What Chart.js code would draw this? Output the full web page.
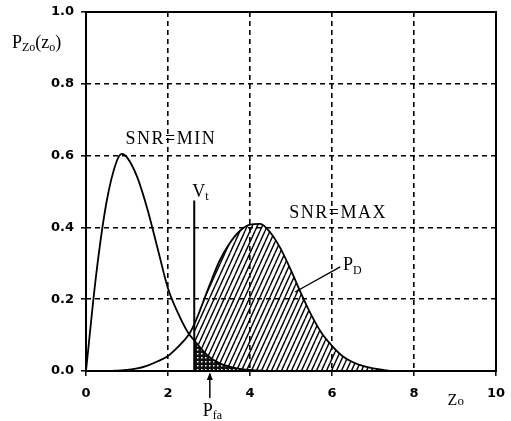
<!DOCTYPE html>
<html>
<head>
<meta charset="utf-8">
<script src="https://cdn.jsdelivr.net/npm/chart.js@4.4.1/dist/chart.umd.min.js"></script>
<style>
html, body { margin: 0; padding: 0; background: #fff; }
#wrap { width: 511px; height: 421px; }
</style>
</head>
<body>
<div id="wrap"><canvas id="grafico" width="511" height="421"></canvas></div>
<script>
// valores
const zo = [0, 0.25, 0.5, 0.75, 0.875, 1.0, 1.25, 1.5, 1.75, 2.0, 2.25, 2.5, 2.64, 2.75, 3.0, 3.25, 3.5,
            3.75, 4.0, 4.25, 4.5, 4.75, 5.0, 5.25, 5.5, 5.75, 6.0, 6.25, 6.5, 6.75, 7.0, 7.25, 7.5, 8.0, 9.0, 10.0];
const snrMin = [0, 0.27, 0.47, 0.585, 0.605, 0.595, 0.54, 0.45, 0.34, 0.23, 0.16, 0.105, 0.085, 0.07, 0.04, 0.022, 0.012,
                0.006, 0.003, 0.001, 0, 0, 0, 0, 0, 0, 0, 0, 0, 0, 0, 0, 0, 0, 0, 0];
const snrMax = [0, 0, 0, 0.001, 0.002, 0.003, 0.007, 0.015, 0.027, 0.042, 0.068, 0.10, 0.13, 0.16, 0.235, 0.305, 0.355,
                0.39, 0.408, 0.41, 0.385, 0.34, 0.28, 0.215, 0.155, 0.105, 0.07, 0.042, 0.025, 0.014, 0.007, 0.003, 0, 0, 0, 0];
const umbralVt = 2.64;      // posicion de V_t
const alturaVt = 0.475;     // alto de la linea V_t
const yTicks = [0, 0.2, 0.4, 0.6, 0.8, 1.0];
const xTicks = [0, 2, 4, 6, 8, 10];

function puntos(xs, ys, desde) {
    const out = [];
    for (let i = 0; i < xs.length; i++) {
        if (desde === undefined || xs[i] >= desde) out.push({ x: xs[i], y: ys[i] });
    }
    return out;
}

// patron de rayado diagonal
function patronRayas() {
    const c = document.createElement('canvas');
    c.width = 5; c.height = 11;
    const g = c.getContext('2d');
    g.strokeStyle = '#000';
    g.lineWidth = 1.4;
    for (const dx of [-5, 0, 5]) {
        g.beginPath();
        g.moveTo(dx, 11);
        g.lineTo(dx + 5, 0);
        g.stroke();
    }
    return g.createPattern(c, 'repeat');
}

// patron de puntos para P_fa
function patronPuntos() {
    const c = document.createElement('canvas');
    c.width = 4; c.height = 4;
    const g = c.getContext('2d');
    g.fillStyle = '#111';
    g.fillRect(0, 0, 4, 4);
    g.fillStyle = '#fff';
    g.fillRect(1, 1, 1.5, 1.5);
    return g.createPattern(c, 'repeat');
}

function textoSub(ctx, x, y, partes) {
    let cx = x;
    for (const [t, size, dy] of partes) {
        ctx.font = size + 'px "Liberation Serif"';
        ctx.fillText(t, cx, y + dy);
        cx += ctx.measureText(t).width;
    }
}

const anotaciones = {
    id: 'anotaciones',
    afterDatasetsDraw(chart) {
        const ctx = chart.ctx;
        const xs = chart.scales.x, ys = chart.scales.y, a = chart.chartArea;
        const px = v => xs.getPixelForValue(v);
        const py = v => ys.getPixelForValue(v);
        ctx.save();
        ctx.strokeStyle = '#000';
        ctx.fillStyle = '#000';

        // marco
        ctx.lineWidth = 2;
        ctx.strokeRect(a.left, a.top, a.right - a.left, a.bottom - a.top);

        // P_D flecha
        ctx.lineWidth = 1.3;
        ctx.beginPath();
        ctx.moveTo(px(5.1), py(0.22));
        ctx.lineTo(px(6.2), py(0.29));
        ctx.stroke();

        // P_fa flecha
        const fx = px(3.02);
        ctx.lineWidth = 1.5;
        ctx.beginPath();
        ctx.moveTo(fx, py(-0.075));
        ctx.lineTo(fx, py(-0.008));
        ctx.stroke();
        ctx.beginPath();
        ctx.moveTo(fx, py(-0.004));
        ctx.lineTo(fx - 3, py(-0.025));
        ctx.lineTo(fx + 3, py(-0.025));
        ctx.closePath();
        ctx.fill();

        ctx.textBaseline = 'alphabetic';
        ctx.textAlign = 'center';
        ctx.letterSpacing = '1.5px';
        ctx.font = '18px "Liberation Serif"';
        ctx.fillText('SNR=MIN', px(2.07), py(0.632));
        ctx.fillText('SNR=MAX', px(6.15), py(0.427));
        ctx.letterSpacing = '0px';

        ctx.textAlign = 'left';
        textoSub(ctx, 12, 48, [['P', 18, 0], ['Zo', 12, 3], ['(z', 18, 0], ['o', 12, 3], [')', 18, 0]]);
        textoSub(ctx, px(2.59), py(0.485), [['V', 18, 0], ['t', 12, 3]]);
        textoSub(ctx, px(6.27), py(0.28), [['P', 18, 0], ['D', 12, 4]]);
        textoSub(ctx, px(2.85), py(-0.124), [['P', 18, 0], ['fa', 12, 3]]);
        textoSub(ctx, px(8.82), py(-0.095), [['Z', 16, 0], ['o', 13, 0]]);
        ctx.restore();
    }
};

const esBorde = (v, lo, hi) => Math.abs(v - lo) < 1e-6 || Math.abs(v - hi) < 1e-6;

new Chart(document.getElementById('grafico'), {
    type: 'line',
    data: {
        datasets: [
            {
                label: 'SNR=MIN',
                data: puntos(zo, snrMin),
                borderColor: '#000', borderWidth: 1.8,
                pointRadius: 0, fill: false,
                cubicInterpolationMode: 'monotone', order: 0
            },
            {
                label: 'SNR=MAX',
                data: puntos(zo, snrMax),
                borderColor: '#000', borderWidth: 1.8,
                pointRadius: 0, fill: false,
                cubicInterpolationMode: 'monotone', order: 0
            },
            {
                label: 'Vt',
                data: [{ x: umbralVt, y: 0 }, { x: umbralVt, y: alturaVt }],
                borderColor: '#000', borderWidth: 2,
                pointRadius: 0, fill: false, order: 0
            },
            {
                label: 'Pfa',
                data: puntos(zo, snrMin, umbralVt),
                borderWidth: 0, borderColor: 'rgba(0,0,0,0)',
                backgroundColor: patronPuntos(),
                pointRadius: 0, fill: 'origin',
                cubicInterpolationMode: 'monotone', order: 1
            },
            {
                label: 'PD',
                data: puntos(zo, snrMax, umbralVt),
                borderWidth: 0, borderColor: 'rgba(0,0,0,0)',
                backgroundColor: patronRayas(),
                pointRadius: 0, fill: 'origin',
                cubicInterpolationMode: 'monotone', order: 2
            }
        ]
    },
    options: {
        responsive: false,
        animation: false,
        devicePixelRatio: 1,
        layout: { padding: { left: 0, top: 12, right: 15, bottom: 0 } },
        plugins: { legend: { display: false }, tooltip: { enabled: false } },
        scales: {
            x: {
                type: 'linear', min: 0, max: 10,
                afterFit: s => { s.height = 50; s.paddingLeft = 0; s.paddingRight = 0; },
                afterBuildTicks: s => { s.ticks = xTicks.map(v => ({ value: v })); },
                ticks: { color: '#000', padding: 10, font: { family: 'DejaVu Sans', size: 13, weight: 'bold' },
                         callback: v => String(v) },
                grid: {
                    color: c => (c.tick && esBorde(c.tick.value, 0, 10)) ? 'rgba(0,0,0,0)' : '#000',
                    lineWidth: 1.6, tickColor: '#000', tickLength: 5, tickWidth: 1.5
                },
                border: { display: false, dash: [5, 4] }
            },
            y: {
                type: 'linear', min: 0, max: 1,
                afterFit: s => { s.width = 86; s.paddingTop = 0; s.paddingBottom = 0; },
                afterBuildTicks: s => { s.ticks = yTicks.map(v => ({ value: v })); },
                ticks: { color: '#000', padding: 7, font: { family: 'DejaVu Sans', size: 13, weight: 'bold' },
                         callback: v => v.toFixed(1) },
                grid: {
                    color: c => (c.tick && esBorde(c.tick.value, 0, 1)) ? 'rgba(0,0,0,0)' : '#000',
                    lineWidth: 1.6, tickColor: '#000', tickLength: 5, tickWidth: 1.5
                },
                border: { display: false, dash: [5, 4] }
            }
        }
    },
    plugins: [anotaciones]
});
</script>
</body>
</html>
